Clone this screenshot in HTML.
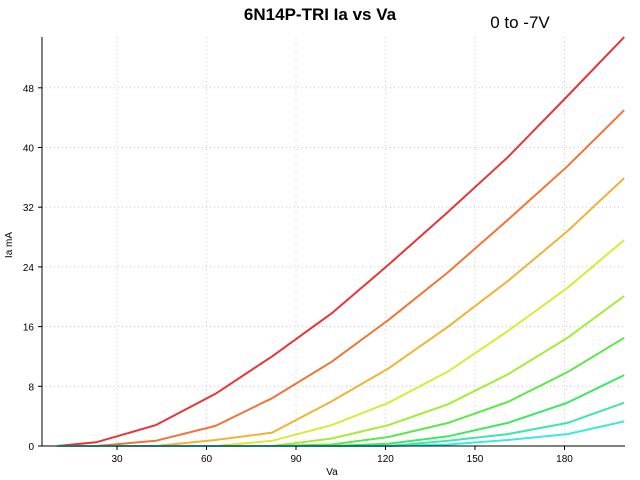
<!DOCTYPE html>
<html><head><meta charset="utf-8"><style>
body{margin:0;background:#fff}
svg{display:block;font-family:"Liberation Sans",sans-serif}
</style></head><body>
<svg id="c" width="640" height="480">
<text x="320" y="20" text-anchor="middle" font-size="17" font-weight="bold">6N14P-TRI Ia vs Va</text>
<text x="520" y="28" text-anchor="middle" font-size="17">0 to -7V</text>
<text x="332" y="475" text-anchor="middle" font-size="10">Va</text>
<text transform="translate(12,245) rotate(-90)" text-anchor="middle" font-size="10">Ia mA</text>
<g id="grid"></g><g id="series"></g><g id="axes"></g>
</svg>
<script>
const xValues=[10,23,43,63,82,102,121,141,161,181,200];
const s0=[0,0.5,2.8,7,12,17.8,24.3,31.4,38.7,46.9,54.8];
const s1=[0,0,0.7,2.7,6.4,11.3,16.9,23.3,30.3,37.5,45];
const s2=[0,0,0,0.8,1.8,6,10.4,16,22.1,28.8,35.9];
const s3=[0,0,0,0,0.7,2.8,5.8,10,15.4,21.2,27.6];
const s4=[0,0,0,0,0,1,2.8,5.6,9.6,14.5,20.1];
const s5=[0,0,0,0,0,0.2,1.2,3.1,5.9,9.9,14.5];
const s6=[0,0,0,0,0,0,0.3,1.3,3.1,5.8,9.5];
const s7=[0,0,0,0,0,0,0,0.7,1.6,3.1,5.8];
const s8=[0,0,0,0,0,0,0,0.2,0.8,1.6,3.3];
const seriesList=[s0,s1,s2,s3,s4,s5,s6,s7,s8];
const colors=["#e83434","#f07434","#f0b434","#dce834","#a4ec34","#5ce844","#3ce864","#3ce8a8","#3ce8e0"];
const xTicks=[30,60,90,120,150,180];
const yTicks=[0,8,16,24,32,40,48];
const L=42,R=625,T=37,B=446;
const X=v=>27.5+v*(89.5/30);
const Y=v=>B-v*(59.7/8);
const NS="http://www.w3.org/2000/svg";
function mk(t,a,p){const e=document.createElementNS(NS,t);for(const k in a)e.setAttribute(k,a[k]);p.appendChild(e);return e;}
const g=document.getElementById('grid'),ax=document.getElementById('axes'),sr=document.getElementById('series');
xTicks.forEach(t=>{
 const l=mk('line',{x1:X(t),x2:X(t),y1:T,y2:B,stroke:'#c8c8c8','stroke-dasharray':'1,3'},g);
 
 
 const k=mk('line',{x1:X(t),x2:X(t),y1:B,y2:B+4,stroke:'#000'},ax);
 
 
 const tx=mk('text',{x:X(t),y:B+16,'text-anchor':'middle','font-size':10},ax);tx.textContent=t;
 
 
});
yTicks.forEach(t=>{
 if(t>0){const l=mk('line',{x1:L,x2:R,y1:Y(t),y2:Y(t),stroke:'#c8c8c8','stroke-dasharray':'1,3'},g);
 
 }
 const k=mk('line',{x1:L-4,x2:L,y1:Y(t),y2:Y(t),stroke:'#000'},ax);
 
 
 const tx=mk('text',{x:L-8,y:Y(t)+4,'text-anchor':'end','font-size':10},ax);tx.textContent=t;
 
 
});
const xa=mk('line',{x1:L,x2:R,y1:B,y2:B,stroke:'#000'},ax);


const ya=mk('line',{x1:L,x2:L,y1:T,y2:B,stroke:'#000'},ax);


seriesList.forEach((s,i)=>{
 const pts=s.map((v,j)=>X(xValues[j]).toFixed(1)+','+Y(v).toFixed(1)).join(' ');
 const p=mk('polyline',{points:pts,fill:'none',stroke:colors[i],'stroke-width':2},sr);
 
 
});
</script>
</body></html>
